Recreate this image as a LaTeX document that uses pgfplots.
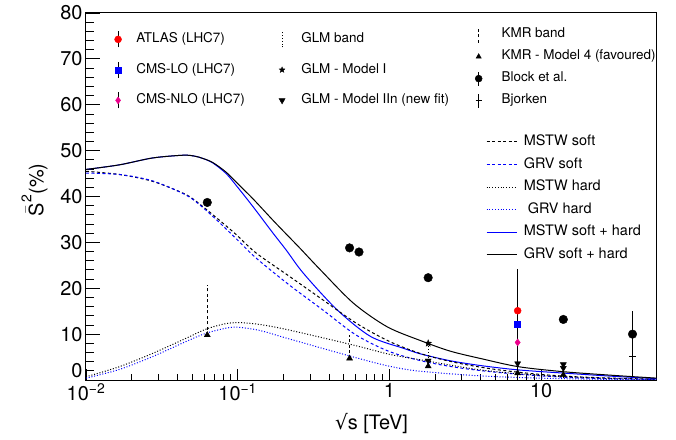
\documentclass[border=0pt]{standalone}
\usepackage{fontspec}
\usepackage{amsmath}
\setmainfont{TeX Gyre Heros}
\newfontfamily\dejavu{DejaVu Sans}
\usepackage{pgfplots}
\pgfplotsset{compat=1.18}

% filled five point star, like ROOT marker 29
\pgfdeclareplotmark{fstar}{%
  \pgfpathmoveto{\pgfpointpolar{90}{\pgfplotmarksize}}%
  \pgfpathlineto{\pgfpointpolar{126}{0.42\pgfplotmarksize}}%
  \pgfpathlineto{\pgfpointpolar{162}{\pgfplotmarksize}}%
  \pgfpathlineto{\pgfpointpolar{198}{0.42\pgfplotmarksize}}%
  \pgfpathlineto{\pgfpointpolar{234}{\pgfplotmarksize}}%
  \pgfpathlineto{\pgfpointpolar{270}{0.42\pgfplotmarksize}}%
  \pgfpathlineto{\pgfpointpolar{306}{\pgfplotmarksize}}%
  \pgfpathlineto{\pgfpointpolar{342}{0.42\pgfplotmarksize}}%
  \pgfpathlineto{\pgfpointpolar{18}{\pgfplotmarksize}}%
  \pgfpathlineto{\pgfpointpolar{54}{0.42\pgfplotmarksize}}%
  \pgfpathclose\pgfusepathqfillstroke}

\tikzset{
  rdash/.style={dash pattern=on 3bp off 2.5bp},
  rdot/.style={dash pattern=on 1bp off 1.8bp},
}
\pgfplotsset{
  legax/.style={hide axis, scale only axis, width=571bp, height=367bp,
    xmin=0, xmax=1, ymin=0, ymax=1, legend cell align=left,
    legend style={draw=none, fill=none, inner sep=0pt, anchor=north west,
      nodes={inner sep=0pt, text height=10bp, text depth=3.5bp},
      font=\fontsize{13.5}{14}\selectfont, column sep=0pt}},
}

\begin{document}
\begin{tikzpicture}
\useasboundingbox (-86bp,-60bp) rectangle (590bp,380bp);
\begin{axis}[
  scale only axis, width=571bp, height=367bp,
  xmode=log, xmin=0.01, xmax=58, ymin=0, ymax=80,
  xtick={0.01,0.1,1,10},
  xticklabels={10\textsuperscript{−2},10\textsuperscript{−1},1,10},
  ytick={0,10,...,80}, minor y tick num=4,
  yticklabels={\raisebox{9bp}[\height][\depth]{0},10,20,30,40,50,60,70,80},
  tick align=inside, xtick pos=bottom, ytick pos=left,
  major tick length=14bp, minor tick length=8bp,
  xtick style={/pgfplots/major tick length=11bp, /pgfplots/minor tick length=5.5bp},
  axis line style={line width=1bp},
  every tick/.style={black, line width=0.8bp},
  /pgf/number format/assume math mode=true,
  tick label style={font=\fontsize{20}{24}\selectfont},
  xlabel={{\dejavu √}s [TeV]},
  ylabel={$\bar{\text{S}}^{\text{2}}$(\%)},
  label style={font=\fontsize{20}{24}\selectfont},
  xlabel style={at={(axis description cs:0.5,-0.118)}, anchor=center},
  ylabel style={at={(axis description cs:-0.09,0.518)}, anchor=center},
]
% soft + hard
\addplot[blue, line width=1bp, smooth] coordinates {
(0.01,45.9) (0.0166,46.9) (0.0275,48.4) (0.0437,49.0) (0.052,48.8) (0.0589,48.3)
(0.0686,47.3) (0.0839,45.0) (0.1,42.0) (0.126,37.8) (0.171,32.0) (0.209,28.3)
(0.272,23.2) (0.452,15.3) (0.750,9.5) (1.24,6.9) (1.60,5.7) (2.51,4.2) (4.09,3.1)
(7.08,2.2) (14.1,1.5) (30.2,0.8) (58,0.3)};
\addplot[black, line width=1bp, smooth] coordinates {
(0.01,45.9) (0.0166,46.9) (0.0275,48.4) (0.0437,49.0) (0.052,48.8) (0.0589,48.3)
(0.0686,47.4) (0.0839,45.3) (0.1,42.8) (0.126,39.5) (0.171,34.8) (0.209,31.8)
(0.256,28.8) (0.351,24.0) (0.581,16.7) (0.966,11.6) (1.60,8.6) (2.51,6.3)
(4.09,4.6) (7.08,2.9) (14.1,1.8) (30.2,1.0) (58,0.4)};
% soft
\addplot[black, line width=1bp, rdash, smooth] coordinates {
(0.01,45.5) (0.0166,44.8) (0.0275,43.3) (0.0457,40.4) (0.0589,37.8) (0.0759,34.8)
(0.0977,31.7) (0.132,27.7) (0.219,22.6) (0.363,17.5) (0.603,12.4) (1,8.4)
(1.66,5.6) (2.82,3.7) (5.01,2.3) (10,1.2) (20,0.6) (58,0.15)};
\addplot[blue, line width=1bp, rdash, smooth] coordinates {
(0.01,45.1) (0.0166,44.8) (0.0275,43.4) (0.0457,40.3) (0.0589,37.6) (0.0759,34.3)
(0.0977,30.8) (0.132,26.6) (0.219,20.7) (0.363,15.3) (0.603,9.8) (1,6.2)
(1.66,4.1) (2.82,2.7) (5.01,1.7) (10,0.9) (20,0.4) (58,0.1)};
% hard
\addplot[black, line width=1bp, rdot, smooth] coordinates {
(0.01,0.7) (0.0166,2.9) (0.0275,5.8) (0.0457,9.1) (0.0619,11.1) (0.0839,12.3)
(0.105,12.5) (0.14,12.1) (0.211,11.0) (0.581,7.6) (1,5.6) (1.6,4.4) (3.98,2.2)
(10,1.0) (25.1,0.4) (58,0.1)};
\addplot[blue, line width=1bp, rdot, smooth] coordinates {
(0.01,0.4) (0.0166,2.3) (0.0275,5.1) (0.0457,8.4) (0.0619,10.2) (0.0839,11.3)
(0.1,11.5) (0.14,10.8) (0.211,9.1) (0.581,5.0) (1,3.0) (1.6,1.9) (3.98,0.9)
(10,0.4) (25.1,0.15) (58,0.05)};
% KMR band
\addplot[black, line width=0.8bp, rdash] coordinates {(0.063,10.9) (0.063,20.7)};
\addplot[black, line width=0.8bp, rdash] coordinates {(0.546,5.8) (0.546,9.8)};
\addplot[black, line width=0.8bp, rdash] coordinates {(14,0.5) (14,3.0)};
% GLM band
\addplot[black, line width=0.8bp, rdot] coordinates {(1.8,3.5) (1.8,8.0)};
% predictions
\addplot[only marks, mark=triangle*, mark size=3.5bp, black] coordinates {
(0.063,9.8) (0.546,4.7) (1.8,3.0) (7,1.5) (14,1.1)};
\addplot[only marks, mark=triangle*, mark options={rotate=180}, mark size=3.5bp, black] coordinates {
(1.8,4.2) (7,3.6) (14,3.4) (14,2.6)};
\addplot[only marks, mark=fstar, mark size=3.5bp, black] coordinates {(1.8,8.0)};
\addplot[only marks, mark=*, mark size=4.3bp, black,
  error bars/.cd, y dir=both, y explicit, error mark=none,
  error bar style={line width=1bp}] coordinates {
(0.063,38.7) (0.546,28.8) (0.63,27.9) (1.8,22.3) (14,13.2) (40,10.0) +- (0,5.0)};
\addplot[only marks, mark=+, mark size=3.5bp, black, line width=1bp,
  error bars/.cd, y dir=both, y explicit, error mark=none,
  error bar style={line width=1bp}] coordinates {(40,5.2) +- (0,4.5)};
% LHC7 measurements
\addplot[only marks, mark=*, mark size=3.5bp, red,
  error bars/.cd, y dir=both, y explicit, error mark=none,
  error bar style={black, line width=1bp}] coordinates {(7,15.1) += (0,9.1) -= (0,15.1)};
\addplot[only marks, mark=square*, mark size=3bp, blue] coordinates {(7,12.2)};
\addplot[only marks, mark=diamond*, mark size=3.5bp, magenta] coordinates {(7,8.2)};
\end{axis}

% legend: experiments
\begin{axis}[legax, legend style={at={(0.045,0.947)}, row sep=17bp}]
\addlegendimage{legend image code/.code={\draw[overlay,black,line width=0.8bp] (0bp,-8bp)--(0bp,8bp); \fill[red] (0bp,0bp) circle (3.5bp); \path (-6bp,0bp) (18bp,0bp);}}
\addlegendentry{ATLAS (LHC7)}
\addlegendimage{legend image code/.code={\draw[overlay,black,line width=0.8bp] (0bp,-8bp)--(0bp,8bp); \fill[blue] (-3bp,-3bp) rectangle (3bp,3bp); \path (-6bp,0bp) (18bp,0bp);}}
\addlegendentry{CMS-LO (LHC7)}
\addlegendimage{legend image code/.code={\draw[overlay,black,line width=0.8bp] (0bp,-8bp)--(0bp,8bp); \fill[magenta] (0bp,3.5bp)--(2.5bp,0bp)--(0bp,-3.5bp)--(-2.5bp,0bp)--cycle; \path (-6bp,0bp) (18bp,0bp);}}
\addlegendentry{CMS-NLO (LHC7)}
\end{axis}

% legend: GLM
\begin{axis}[legax, legend style={at={(0.3322,0.947)}, row sep=17bp}]
\addlegendimage{legend image code/.code={\draw[overlay,black,line width=0.8bp,rdot] (0bp,-8bp)--(0bp,8bp); \path (-6bp,0bp) (19bp,0bp);}}
\addlegendentry{GLM band}
\addlegendimage{legend image code/.code={\draw[black] plot[mark=fstar, mark size=3bp] coordinates {(0bp,0bp)}; \path (-6bp,0bp) (19bp,0bp);}}
\addlegendentry{GLM - Model I}
\addlegendimage{legend image code/.code={\draw[black] plot[mark=triangle*, mark options={rotate=180}, mark size=3.5bp] coordinates {(0bp,0bp)}; \path (-6bp,0bp) (19bp,0bp);}}
\addlegendentry{GLM - Model IIn (new fit)}
\end{axis}

% legend: KMR and others
\begin{axis}[legax, legend style={at={(0.6765,0.96)}, row sep=8.5bp}]
\addlegendimage{legend image code/.code={\draw[overlay,black,line width=0.8bp,rdash] (0bp,-8bp)--(0bp,8bp); \path (-6bp,0bp) (22.7bp,0bp);}}
\addlegendentry{KMR band}
\addlegendimage{legend image code/.code={\draw[black] plot[mark=triangle*, mark size=3bp] coordinates {(0bp,0bp)}; \path (-6bp,0bp) (22.7bp,0bp);}}
\addlegendentry{KMR - Model 4 (favoured)}
\addlegendimage{legend image code/.code={\draw[overlay,black,line width=0.8bp] (0bp,-7bp)--(0bp,7bp); \fill[black] (0bp,0bp) circle (3.5bp); \path (-6bp,0bp) (22.7bp,0bp);}}
\addlegendentry{Block et al.}
\addlegendimage{legend image code/.code={\draw[overlay,black,line width=0.8bp] (0bp,-7bp)--(0bp,7bp) (-3bp,0bp)--(3bp,0bp); \path (-6bp,0bp) (22.7bp,0bp);}}
\addlegendentry{Bjorken}
\end{axis}

% legend: curves
\begin{axis}[legax, legend style={at={(0.7005,0.669)}, row sep=8.2bp,
  nodes={inner sep=0pt, text height=10.8bp, text depth=3.6bp},
  font=\fontsize{14.5}{15}\selectfont}]
\addlegendimage{legend image code/.code={\draw[black,line width=1bp,rdash] (0bp,0bp)--(30bp,0bp); \path (37bp,0bp);}}
\addlegendentry{MSTW soft}
\addlegendimage{legend image code/.code={\draw[blue,line width=1bp,rdash] (0bp,0bp)--(30bp,0bp); \path (37bp,0bp);}}
\addlegendentry{GRV soft}
\addlegendimage{legend image code/.code={\draw[black,line width=1bp,rdot] (0bp,0bp)--(30bp,0bp); \path (37bp,0bp);}}
\addlegendentry{MSTW hard}
\addlegendimage{legend image code/.code={\draw[blue,line width=1bp,rdot] (0bp,0bp)--(30bp,0bp); \path (37bp,0bp);}}
\addlegendentry{\ GRV hard}
\addlegendimage{legend image code/.code={\draw[blue,line width=1bp] (0bp,0bp)--(30bp,0bp); \path (37bp,0bp);}}
\addlegendentry{MSTW soft + hard}
\addlegendimage{legend image code/.code={\draw[black,line width=1bp] (0bp,0bp)--(30bp,0bp); \path (37bp,0bp);}}
\addlegendentry{GRV soft + hard}
\end{axis}
\end{tikzpicture}
\end{document}
